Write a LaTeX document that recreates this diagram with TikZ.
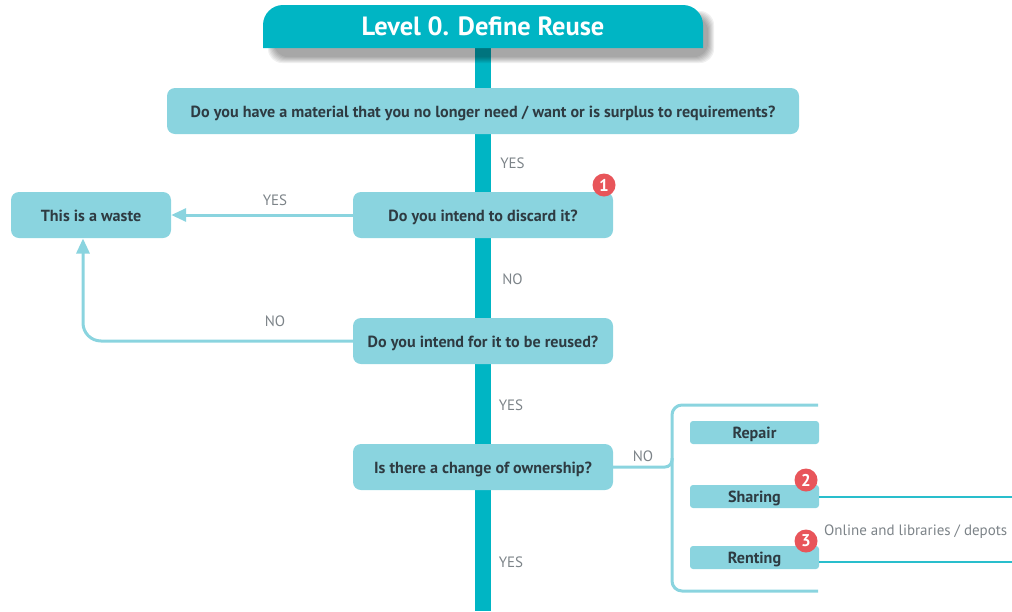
\documentclass[tikz,border=0pt]{standalone}
\usepackage{fontspec}
\setmainfont{PT Sans}
\usetikzlibrary{arrows.meta}
\pgfdeclarelayer{bg}
\pgfdeclarelayer{shade}
\pgfsetlayers{bg,shade,main}
\definecolor{trunkc}{HTML}{00B5C4}
\definecolor{boxc}{HTML}{8AD4DF}
\definecolor{inkc}{HTML}{2E3B42}
\definecolor{lblc}{HTML}{7C8388}
\definecolor{badgec}{HTML}{E8555A}
\tikzset{
 x=1pt,y=-1pt,
 qbox/.style={fill=boxc,rounded corners=8pt,inner sep=0pt,text=inkc,font=\fontsize{16.1}{18}\selectfont\bfseries,minimum height=46pt,text height=12pt,text depth=0pt},
 optbox/.style={fill=boxc,rounded corners=3pt,inner sep=0pt,text=inkc,font=\fontsize{16.1}{18}\selectfont\bfseries,minimum width=129pt,minimum height=23pt,text height=12pt,text depth=0pt},
 lbl/.style={text=lblc,inner sep=0pt,font=\fontsize{15}{18}\selectfont},
 badge/.style={circle,fill=badgec,text=white,inner sep=0pt,minimum size=23pt,font=\fontsize{17}{18}\selectfont\bfseries},
 flow/.style={draw=boxc,line width=3pt,rounded corners=18pt},
 tealflow/.style={draw=trunkc!70!boxc,line width=1.8pt},
 trunk/.style={draw=trunkc,line width=16pt},
 tip/.style={-{Triangle[length=15pt,width=13pt,fill=boxc]}},
}
\begin{document}
\begin{tikzpicture}
\useasboundingbox (0,0) rectangle (1012,611);
% header
\node[inner sep=0pt,minimum width=440pt,minimum height=43pt,text=white,font=\fontsize{26.4}{30}\selectfont\bfseries,text height=17pt,text depth=0pt] (header) at (483,26.5) {Level 0. Define Reuse};
% question boxes
\node[qbox,minimum width=632pt] (material) at (483,111) {Do you have a material that you no longer need / want or is surplus to requirements?};
\node[qbox,minimum width=260pt] (discard) at (483,215) {Do you intend to discard it?};
\node[qbox,minimum width=260pt] (reused) at (483,341) {Do you intend for it to be reused?};
\node[qbox,minimum width=260pt] (owner) at (483,467) {Is there a change of ownership?};
\node[qbox,minimum width=160pt] (waste) at (91,215) {This is a waste};
% option boxes
\node[optbox] (repair) at (754.5,432.5) {Repair};
\node[optbox] (sharing) at (754.5,496.5) {Sharing};
\node[optbox] (renting) at (754.5,557.5) {Renting};
% free ends
\coordinate (trunkend) at (483,611);
\coordinate (brtop) at (818,405);
\coordinate (brbot) at (818,591);
\coordinate (brspine) at (672,467);
\coordinate (shareend) at (1012,497);
\coordinate (rentend) at (1012,562);
% trunk
\begin{pgfonlayer}{bg}
\draw[trunk] (header.south) -- (material.north);
\draw[trunk] (material.south) -- (discard.north);
\draw[trunk] (discard.south) -- (reused.north);
\draw[trunk] (reused.south) -- (owner.north);
\draw[trunk] (owner.south) -- (trunkend);
\end{pgfonlayer}
% header shadow
\begin{pgfonlayer}{shade}
\foreach \g in {0,1,...,6}{
 \fill[black,opacity=0.06,rounded corners=14pt] (268+\g,11+\g) rectangle (714-\g,63-\g);
}
\fill[trunkc] (263,48) -- (263,25) arc[start angle=180,end angle=90,radius=20pt] -- (683,5) arc[start angle=90,end angle=0,radius=20pt] -- (703,48) -- cycle;
\end{pgfonlayer}
% connectors
\draw[flow,tip,rounded corners=0pt] (discard.west) -- (waste.east);
\draw[flow,tip] (reused.west) -- (83,341) -- (83,238.5);
\draw[flow,rounded corners=10pt] (brtop) -- (672,405) -- (672,591) -- (brbot);
\draw[flow,rounded corners=7pt] (owner.east) -- (brspine) -- (672,458);
\draw[tealflow] (sharing.east |- shareend) -- (shareend);
\draw[tealflow] (renting.east |- rentend) -- (rentend);
% badges
\node[badge] (b1) at (604,185) {1};
\node[badge] (b2) at (806,480) {2};
\node[badge] (b3) at (806,541) {3};
% labels
\node[lbl] (l1) at (512.5,163.5) {YES};
\node[lbl] (l2) at (275,200.5) {YES};
\node[lbl] (l3) at (512.5,279.5) {NO};
\node[lbl] (l4) at (275,321) {NO};
\node[lbl] (l5) at (511,405) {YES};
\node[lbl] (l6) at (643,456.5) {NO};
\node[lbl] (l7) at (511,562) {YES};
\node[lbl,anchor=west] (l8) at (824,532) {Online and libraries / depots};
\end{tikzpicture}
\end{document}
